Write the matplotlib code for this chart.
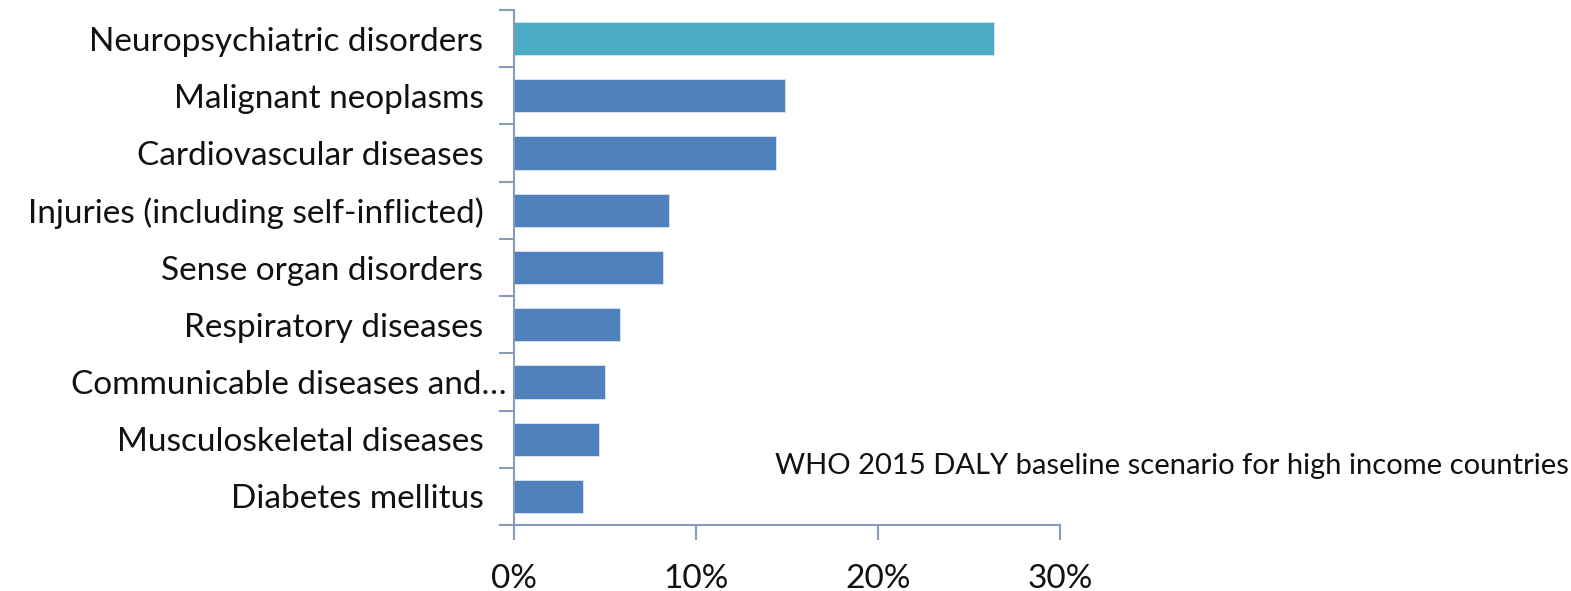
import matplotlib
matplotlib.use('Agg')
import matplotlib.pyplot as plt
import matplotlib.transforms as mtransforms
from matplotlib.ticker import PercentFormatter

# DALY share by cause group, top to bottom
causes = ['Neuropsychiatric disorders', 'Malignant neoplasms', 'Cardiovascular diseases',
          'Injuries (including self-inflicted)', 'Sense organ disorders', 'Respiratory diseases',
          'Communicable diseases and\u2026', 'Musculoskeletal diseases', 'Diabetes mellitus']
share = [26.4, 14.9, 14.4, 8.5, 8.2, 5.85, 5.0, 4.65, 3.8]
x_ticks = [0, 10, 20, 30]

plt.rcParams['font.family'] = ['Lato', 'DejaVu Sans']

fig = plt.figure(figsize=(15.71, 5.91), dpi=100)
ax = fig.add_axes([514 / 1571, 1 - 525 / 591, (1060 - 514) / 1571, (525 - 10) / 591])

axis_col = '#8a9bb8'
colors = ['#4bacc6'] + ['#4f81bd'] * (len(causes) - 1)
pos = list(range(len(causes)))
ax.barh(pos, share, height=0.58, color=colors, edgecolor='#dce6f2', linewidth=0.6)

ax.set_ylim(len(causes) - 0.5, -0.5)
ax.set_xlim(0, 30)
ax.set_xticks(x_ticks)
ax.xaxis.set_major_formatter(PercentFormatter(decimals=0))

# category labels on ticks; tick marks sit between the bars
ax.set_yticks(pos)
ax.set_yticklabels(causes)
ax.set_yticks([p + 0.5 for p in range(-1, len(causes))], minor=True)
ax.tick_params(axis='y', which='major', length=0, pad=22, labelsize=24, colors='#111111')
ax.tick_params(axis='y', which='minor', length=11, width=1.5, color=axis_col)
ax.tick_params(axis='x', length=11, width=1.5, color=axis_col, labelsize=24, pad=17,
               labelcolor='#111111')

for side in ['top', 'right']:
    ax.spines[side].set_visible(False)
for side in ['left', 'bottom']:
    ax.spines[side].set_color(axis_col)
    ax.spines[side].set_linewidth(1.5)

# the truncated label runs closer to the axis
lbl = ax.get_yticklabels()[6]
lbl.set_transform(lbl.get_transform() +
                  mtransforms.ScaledTranslation(23 / 100, 0, fig.dpi_scale_trans))

fig.text(775 / 1571, 1 - 466 / 591, 'WHO 2015 DALY baseline scenario for high income countries',
         fontsize=21, va='center', ha='left', color='#111111')

fig.savefig('out.png', dpi=100)
